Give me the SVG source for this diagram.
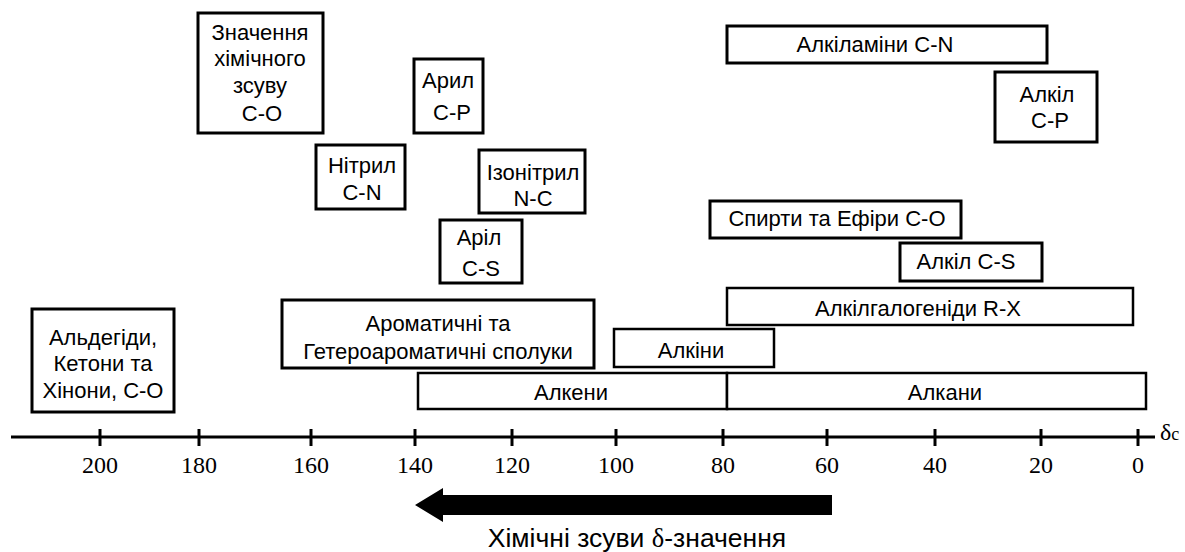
<svg xmlns="http://www.w3.org/2000/svg" width="1185" height="552" viewBox="0 0 1185 552">
<style>
.box{fill:#fff;stroke:#000;stroke-width:3}
.bar{fill:#fff;stroke:#000;stroke-width:2.5}
.t{font-family:"Liberation Sans",Arial,sans-serif;font-size:22px;fill:#000;text-anchor:middle}
.cap{font-family:"Liberation Sans",Arial,sans-serif;font-size:26.5px;fill:#000;text-anchor:middle}
.n{font-family:"Liberation Serif","Times New Roman",serif;font-size:24px;fill:#000;text-anchor:middle}
.ax{stroke:#000;stroke-width:3;fill:none}
</style>
<rect width="1185" height="552" fill="#fff"/>
<g id="connectors">
<line class="ax" x1="11" y1="437" x2="1155" y2="437"/>
<g class="ax">
<line x1="100" y1="429" x2="100" y2="446"/>
<line x1="199" y1="429" x2="199" y2="446"/>
<line x1="311" y1="429" x2="311" y2="446"/>
<line x1="415" y1="429" x2="415" y2="446"/>
<line x1="512" y1="429" x2="512" y2="446"/>
<line x1="616" y1="429" x2="616" y2="446"/>
<line x1="723" y1="429" x2="723" y2="446"/>
<line x1="827" y1="429" x2="827" y2="446"/>
<line x1="935" y1="429" x2="935" y2="446"/>
<line x1="1041" y1="429" x2="1041" y2="446"/>
<line x1="1138" y1="429" x2="1138" y2="446"/>
</g>
<g class="n">
<text x="100" y="473">200</text>
<text x="199" y="473">180</text>
<text x="311" y="473">160</text>
<text x="415" y="473">140</text>
<text x="512" y="473">120</text>
<text x="616" y="473">100</text>
<text x="723" y="473">80</text>
<text x="827" y="473">60</text>
<text x="935" y="473">40</text>
<text x="1041" y="473">20</text>
<text x="1138" y="473">0</text>
</g>
<text x="1160" y="440" font-family="'Liberation Serif',serif" font-size="24">δ<tspan font-size="18">c</tspan></text>
<polygon points="415,505 443,488 443,495 832,495 832,515 443,515 443,522" fill="#000"/>
<text class="cap" x="637" y="547">Хімічні зсуви <tspan font-family="'Liberation Serif',serif">δ</tspan>-значення</text>
</g>
<g id="n-co-value">
<rect class="box" x="198" y="13" width="125" height="120"/>
<text class="t" x="260" y="40">Значення</text>
<text class="t" x="260" y="66">хімічного</text>
<text class="t" x="260" y="93">зсуву</text>
<text class="t" x="262" y="121">C-O</text>
</g>
<g id="n-aryl-cp">
<rect class="box" x="414" y="59" width="69" height="74"/>
<text class="t" x="448" y="88">Арил</text>
<text class="t" x="452" y="120">C-P</text>
</g>
<g id="n-nitrile">
<rect class="box" x="316" y="145" width="89" height="64"/>
<text class="t" x="362" y="173">Нітрил</text>
<text class="t" x="362" y="200">C-N</text>
</g>
<g id="n-isonitrile">
<rect class="box" x="479" y="150" width="106" height="63"/>
<text class="t" x="533" y="180">Ізонітрил</text>
<text class="t" x="533" y="206">N-C</text>
</g>
<g id="n-aryl-cs">
<rect class="box" x="440" y="220" width="82" height="63"/>
<text class="t" x="479" y="245">Арiл</text>
<text class="t" x="481" y="276">C-S</text>
</g>
<g id="n-alkylamines">
<rect class="box" x="727" y="26" width="320" height="37"/>
<text class="t" x="875" y="52">Алкіламіни C-N</text>
</g>
<g id="n-alkyl-cp">
<rect class="box" x="995" y="72" width="102" height="70"/>
<text class="t" x="1047" y="102">Алкіл</text>
<text class="t" x="1050" y="128">C-P</text>
</g>
<g id="n-alcohols">
<rect class="box" x="710" y="201" width="251" height="37"/>
<text class="t" x="837" y="226">Спирти та Ефіри C-O</text>
</g>
<g id="n-alkyl-cs">
<rect class="box" x="900" y="243" width="142" height="38"/>
<text class="t" x="966" y="269">Алкіл C-S</text>
</g>
<g id="n-aldehydes">
<rect class="box" x="32" y="309" width="142" height="103"/>
<text class="t" x="103" y="345">Альдегіди,</text>
<text class="t" x="103" y="371">Кетони та</text>
<text class="t" x="103" y="398">Хінони, C-O</text>
</g>
<g id="n-aromatic">
<rect class="box" x="282" y="300" width="312" height="68"/>
<text class="t" x="438" y="331">Ароматичні та</text>
<text class="t" x="438" y="359">Гетероароматичні сполуки</text>
</g>
<g id="n-haloalkanes">
<rect class="bar" x="727" y="288" width="406" height="37"/>
<text class="t" x="918" y="316">Алкілгалогеніди R-X</text>
</g>
<g id="n-alkynes">
<rect class="bar" x="614" y="329" width="160" height="38"/>
<text class="t" x="691" y="358">Алкіни</text>
</g>
<g id="n-alkenes">
<rect class="bar" x="418" y="373" width="309" height="36"/>
<text class="t" x="571" y="400">Алкени</text>
</g>
<g id="n-alkanes">
<rect class="bar" x="727" y="373" width="419" height="36"/>
<text class="t" x="945" y="400">Алкани</text>
</g>
</svg>
